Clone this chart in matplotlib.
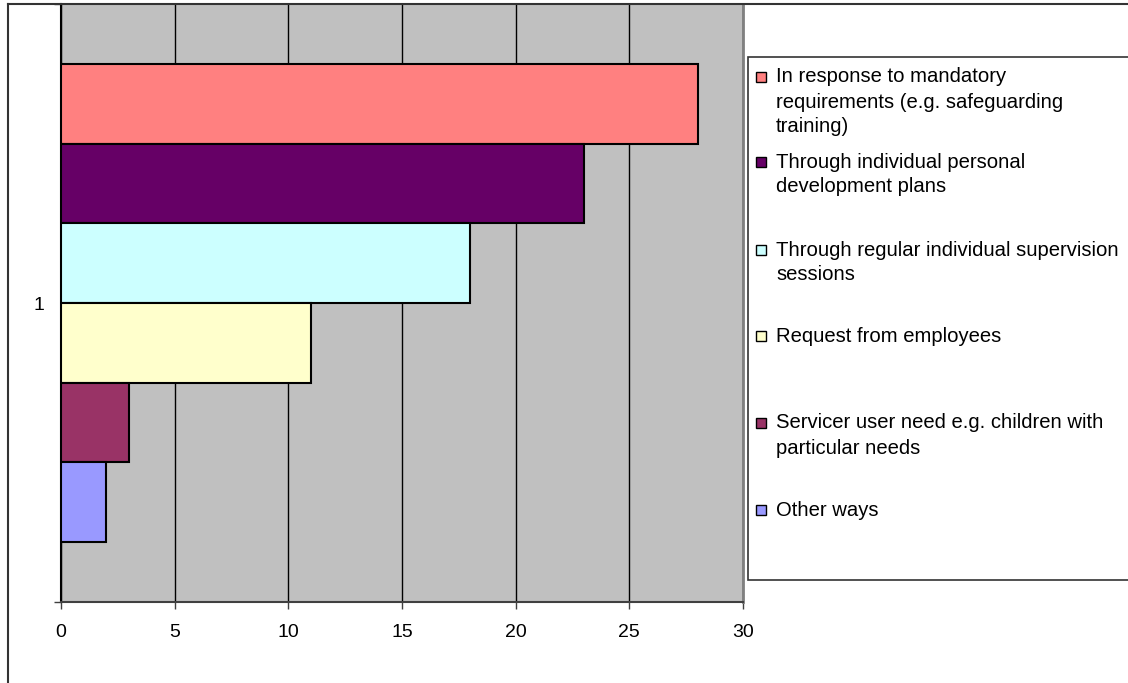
import matplotlib.pyplot as plt
from matplotlib.lines import Line2D
from matplotlib.patches import Rectangle

plt.rcParams['font.family'] = ['Liberation Sans', 'DejaVu Sans']

# survey answers, one series each
labels = [
    "In response to mandatory\nrequirements (e.g. safeguarding\ntraining)",
    "Through individual personal\ndevelopment plans",
    "Through regular individual supervision\nsessions",
    "Request from employees",
    "Servicer user need e.g. children with\nparticular needs",
    "Other ways",
]
values = [28, 23, 18, 11, 3, 2]
colors = ['#FF8080', '#660066', '#CCFFFF', '#FFFFCC', '#993366', '#9999FF']
category = 1
xticks = [0, 5, 10, 15, 20, 25, 30]

W, H = 1128, 683
fig = plt.figure(figsize=(W / 100, H / 100), dpi=100)

def fx(px):
    return px / W

def fy(py):
    return 1 - py / H

ax = fig.add_axes([fx(61), fy(602), fx(743) - fx(61), (602 - 4) / H])
ax.set_facecolor('#C0C0C0')

# grouped horizontal bars, first series on top
n = len(values)
group = 0.8
bh = group / n
for i, (v, c) in enumerate(zip(values, colors)):
    yc = category - group / 2 + bh * (i + 0.5)
    ax.barh(yc, v, height=bh, color=c, edgecolor='black', linewidth=1.5, zorder=3)

ax.set_xlim(0, 30)
ax.set_ylim(category + 0.5, category - 0.5)
ax.set_xticks(xticks)
ax.set_xticklabels([str(t) for t in xticks], fontsize=14)
ax.xaxis.grid(True, color='black', linewidth=1)
ax.set_axisbelow(True)

ax.set_yticks([category])
ax.set_yticklabels(['1'], fontsize=14)
ax.set_yticks([category - 0.5, category + 0.5], minor=True)
ax.tick_params(axis='y', which='major', length=0, pad=12)
ax.tick_params(axis='y', which='minor', length=5, width=1, color='#404040', direction='out')
ax.tick_params(axis='x', length=5, width=1, color='#404040', direction='out', pad=11)

ax.spines['top'].set_visible(False)
ax.spines['right'].set_color('#808080')
ax.spines['right'].set_linewidth(2)
ax.spines['left'].set_color('black')
ax.spines['left'].set_linewidth(1.5)
ax.spines['bottom'].set_color('#404040')
ax.spines['bottom'].set_linewidth(1.5)

# outer chart frame (left and top edges)
fig.add_artist(Line2D([fx(8), fx(8)], [fy(4), 0], color='#333333', lw=1.5))
fig.add_artist(Line2D([fx(8), 1], [fy(4), fy(4)], color='#333333', lw=1.5))

# legend box with hand placed entries
fig.add_artist(Rectangle((fx(748), fy(580)), fx(1128) - fx(748) + 0.01, (580 - 57) / H,
                         facecolor='white', edgecolor='#333333', lw=1.2))
first_line = [77, 162, 250, 336, 423, 510]
line_step = 25
for lab, c, y0 in zip(labels, colors, first_line):
    fig.add_artist(Rectangle((fx(756), fy(y0 + 5)), 10 / W, 10 / H,
                             facecolor=c, edgecolor='black', lw=1))
    for k, line in enumerate(lab.split('\n')):
        fig.text(fx(776), fy(y0 + k * line_step), line, fontsize=14.6,
                 va='center', ha='left')

fig.savefig('out.png', dpi=100)
